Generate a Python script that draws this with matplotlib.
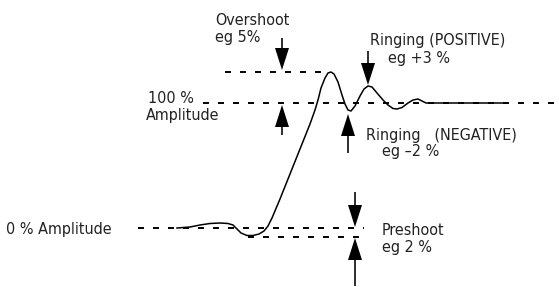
import matplotlib
matplotlib.use('Agg')
import matplotlib.pyplot as plt

plt.rcParams['font.family'] = ['Liberation Sans Narrow', 'DejaVu Sans']
plt.rcParams['font.stretch'] = 'condensed'
plt.rcParams['lines.scale_dashes'] = False

# pulse waveform (pixel coords, y down)
wave_x = [177, 190, 200, 210, 220, 228, 233, 237, 241, 247, 253, 259, 264, 268,
          272, 280, 290, 300, 310, 315, 318, 321, 325, 328, 331, 334, 338, 342,
          345, 348, 351, 355, 360, 364, 368, 372, 377, 383, 388, 393, 397, 402,
          408, 413, 418, 422, 426, 505]
wave_y = [228, 227, 225, 223.5, 223, 223.5, 225, 229, 233, 235.5, 235.5, 234, 231, 226,
          218, 199, 174, 149, 124, 110, 100, 88, 78, 73, 72, 74, 82, 95,
          104, 110, 111, 106, 96, 89, 86, 87, 93, 100, 105, 108.5, 109, 107.5,
          103, 100, 99, 101, 103, 103]

# reference levels: (y, x start, x end)
levels = [(103, 203, 556),   # 100 %
          (72, 225, 325),    # overshoot
          (228, 138, 364),   # 0 %
          (236.5, 248, 364)] # preshoot

# arrows: (x, tail y, tip y)
arrows = [(282, 38, 70),
          (282, 135, 105),
          (368, 51, 85),
          (348, 153, 114),
          (355, 192, 227),
          (355, 286, 238)]

# labels: (x, baseline y, text, align)
labels = [(215, 25, 'Overshoot', 'left'),
          (215, 42, 'eg 5%', 'left'),
          (148, 103, '100 %', 'left'),
          (146, 120, 'Amplitude', 'left'),
          (370, 45, 'Ringing (POSITIVE)', 'left'),
          (388, 63, 'eg +3 %', 'left'),
          (366, 140, 'Ringing   (NEGATIVE)', 'left'),
          (382, 156, 'eg \u20132 %', 'left'),
          (112, 234, '0 % Amplitude', 'right'),
          (382, 235, 'Preshoot', 'left'),
          (382, 252, 'eg 2 %', 'left')]

fig = plt.figure(figsize=(5.59, 2.87), dpi=100)
ax = fig.add_axes([0, 0, 1, 1])
ax.set_xlim(0, 559)
ax.set_ylim(287, 0)
ax.axis('off')

for y, x0, x1 in levels:
    ax.plot([x0, x1], [y, y], color='black', lw=1.4, linestyle=(0, (4.3, 6.5)))

ax.plot(wave_x, wave_y, color='black', lw=1.1)

for x, y0, y1 in arrows:
    ax.arrow(x, y0, 0, y1 - y0, width=1.6, head_width=14, head_length=22,
             length_includes_head=True, color='black', lw=0)

for x, y, s, ha in labels:
    ax.text(x, y, s, ha=ha, va='baseline', fontsize=11.5, color='#222222',
            fontstretch='condensed')

fig.savefig('out.png', dpi=100)
